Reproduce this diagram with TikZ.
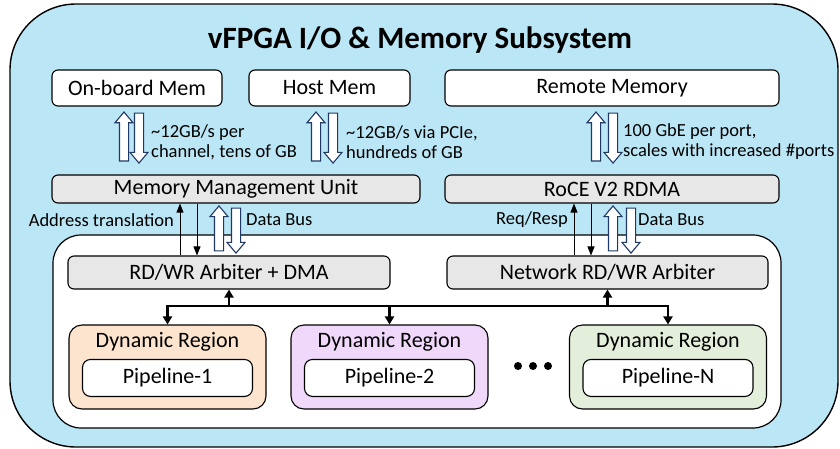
\documentclass[tikz,border=0pt]{standalone}
\usepackage{fontspec}
\setmainfont{Carlito}
\usepackage{tikz}
\usetikzlibrary{arrows.meta,shapes.arrows,calc}
\definecolor{subsysblue}{RGB}{187,230,245}
\definecolor{unitgray}{RGB}{231,231,231}
\definecolor{dynpeach}{RGB}{252,228,206}
\definecolor{dynlilac}{RGB}{240,216,250}
\definecolor{dyngreen}{RGB}{227,239,218}
\definecolor{busnavy}{RGB}{32,56,100}

\begin{document}
\begin{tikzpicture}[x=1pt,y=-1pt,
    box/.style={draw, line width=1.1pt, rounded corners=6pt, fill=white, inner sep=0pt, font=\fontsize{22}{26}\selectfont},
    unit/.style={box, fill=unitgray},
    dyn/.style={draw, line width=1.1pt, rounded corners=13pt, minimum width=197, minimum height=84, inner sep=0pt},
    note/.style={inner sep=0pt, align=left, font=\fontsize{18.5}{20}\selectfont},
    fat/.style={single arrow, draw=busnavy, fill=white, line width=1.1pt, inner sep=0pt, inner ysep=4pt,
        single arrow head extend=4.5pt, single arrow tip angle=80, minimum height=#1, anchor=tail},
    thinarrow/.style={line width=0.8pt, -{Triangle[width=7pt,length=9pt]}},
    busarrow/.style={line width=2.6pt, -{Triangle[width=9pt,length=8pt]}}]
    \useasboundingbox (0,0) rectangle (840,448);

    % subsystem frame and user area
    \draw[line width=1.4pt, fill=subsysblue, rounded corners=66] (10,4) rectangle (838,447);
    \draw[line width=1.2pt, fill=white, rounded corners=28] (53,235) rectangle (781,428);
    \node[font=\bfseries\fontsize{31}{36}\selectfont] (title) at (420,40) {vFPGA I/O \& Memory Subsystem};

    % memories
    \node[box, minimum width=170, minimum height=36] (obm) at (137,88) {On-board Mem};
    \node[box, minimum width=161, minimum height=36] (host) at (329.5,88) {Host Mem};
    \node[box, minimum width=334, minimum height=36] (remote) at (612,88) {Remote Memory};

    % shell units
    \node[unit, minimum width=368, minimum height=28] (mmu) at (236,189) {Memory Management Unit};
    \node[unit, minimum width=334, minimum height=28] (rdma) at (612,189) {RoCE V2 RDMA};
    \node[unit, minimum width=322, minimum height=33] (dma) at (229,272.5) {RD/WR Arbiter + DMA};
    \node[unit, minimum width=321, minimum height=33] (nra) at (607.5,272.5) {Network RD/WR Arbiter};

    % memory links
    \node[fat=49pt, rotate=90] (obmup) at ($(obm.south)+(-13,55)$) {};
    \node[fat=50pt, rotate=-90] (obmdn) at ($(obm.south)+(2,6)$) {};
    \node[note, anchor=west] (obmnote) at (151,142) {\textasciitilde12GB/s per\\channel, tens of GB};
    \node[fat=49pt, rotate=90] (hostup) at ($(host.south)+(-13.5,55)$) {};
    \node[fat=50pt, rotate=-90] (hostdn) at ($(host.south)+(3.5,6)$) {};
    \node[note, anchor=west] (hostnote) at (346,142) {\textasciitilde12GB/s via PCIe,\\hundreds of GB};
    \node[fat=49pt, rotate=90] (remup) at ($(remote.south)+(-16,55)$) {};
    \node[fat=50pt, rotate=-90] (remdn) at ($(remote.south)+(1,6)$) {};
    \node[note, anchor=west] (remnote) at (623,142) {100 GbE per port,\\scales with increased \#ports};

    % MMU <-> arbiter
    \draw[thinarrow] ($(dma.north)+(-49,0)$) -- ($(mmu.south)+(-56,0)$);
    \draw[thinarrow] ($(mmu.south)+(-39,0)$) -- ($(dma.north)+(-32,0)$);
    \node[note, anchor=east] (atlbl) at (174,220) {Address translation};
    \node[fat=45pt, rotate=90] (dmaup) at ($(dma.north)+(-10,-4)$) {};
    \node[fat=45pt, rotate=-90] (dmadn) at ($(mmu.south)+(0,4)$) {};
    \node[note, anchor=west] (dmabus) at (246,220) {Data Bus};

    % RDMA <-> network arbiter
    \draw[thinarrow] ($(nra.north)+(-33.5,0)$) -- ($(rdma.south)+(-38,0)$);
    \draw[thinarrow] ($(rdma.south)+(-21,0)$) -- ($(nra.north)+(-16.5,0)$);
    \node[note, anchor=east] (rrlbl) at (568,220) {Req/Resp};
    \node[fat=45pt, rotate=90] (netup) at ($(nra.north)+(5.5,-4)$) {};
    \node[fat=45pt, rotate=-90] (netdn) at ($(rdma.south)+(19,4)$) {};
    \node[note, anchor=west] (netbus) at (638,220) {Data Bus};

    % dynamic regions
    \node[dyn, fill=dynpeach] (dr1) at (167.5,367) {};
    \node[dyn, fill=dynlilac] (dr2) at (389.5,367) {};
    \node[dyn, fill=dyngreen] (drn) at (668,367) {};
    \foreach \r/\p in {dr1/1, dr2/2, drn/N} {
        \node[inner sep=0pt, font=\fontsize{22}{26}\selectfont] (\r lbl) at ($(\r.north)+(0,17)$) {Dynamic Region};
        \node[box, rounded corners=8pt, minimum width=170, minimum height=37] (\r pipe) at ($(\r.north)+(0,53.5)$) {Pipeline-\p};
    }
    \foreach \x in {518,533,548}
        \fill (\x,366) circle (4);

    % shared bus
    \coordinate (busy) at (0,306);
    \draw[busarrow] (dr2.north |- busy) -| (dr1.north);
    \draw[busarrow] (dr2.north |- busy) -| (drn.north);
    \draw[busarrow] (dr2.north |- busy) -- (dr2.north);
    \draw[busarrow] (dma.south |- busy) -- (dma.south);
    \draw[busarrow] (nra.south |- busy) -- (nra.south);
\end{tikzpicture}
\end{document}
